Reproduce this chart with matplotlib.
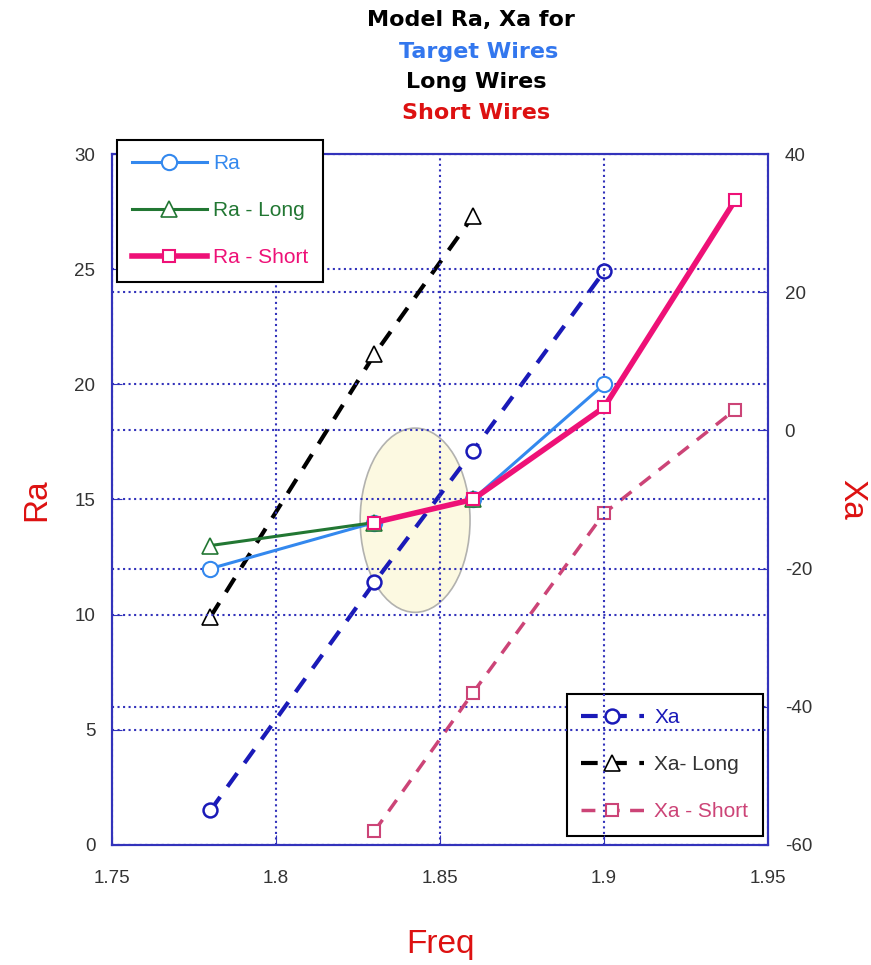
import matplotlib.pyplot as plt
from matplotlib.patches import Ellipse

plt.rcParams['font.family'] = ['Liberation Sans', 'DejaVu Sans']
plt.rcParams['axes.unicode_minus'] = False

freq_ra = [1.78, 1.83, 1.86, 1.9]
ra = [12, 14, 15, 20]
freq_ra_long = [1.78, 1.83, 1.86]
ra_long = [13, 14, 15]
freq_ra_short = [1.83, 1.86, 1.9, 1.94]
ra_short = [14, 15, 19, 28]

freq_xa = [1.78, 1.83, 1.86, 1.9]
xa = [-55, -22, -3, 23]
freq_xa_long = [1.78, 1.83, 1.86]
xa_long = [-27, 11, 31]
freq_xa_short = [1.83, 1.86, 1.9, 1.94]
xa_short = [-58, -38, -12, 3]

grid_col = '#3333bb'

fig = plt.figure(figsize=(8.71, 9.65), dpi=100)
ax = fig.add_axes([0.1286, 0.1244, 0.7532, 0.716])
ax2 = ax.twinx()
# Ra axis on top of the Xa axis
ax2.set_zorder(ax.get_zorder() - 1)
ax.patch.set_visible(False)

# Xa series (right axis)
ax2.plot(freq_xa, xa, color='#1a1ab8', lw=3, ls=(0, (4, 3)), marker='o',
         ms=10, mfc='white', mew=1.8, label='Xa')
ax2.plot(freq_xa_long, xa_long, color='black', lw=3, ls=(0, (4, 3)), marker='^',
         ms=12, mfc='white', mew=1.2, label='Xa- Long')
ax2.plot(freq_xa_short, xa_short, color='#cc4477', lw=2.5, ls=(0, (4, 3)), marker='s',
         ms=8, mfc='white', mew=1.5, label='Xa - Short')
ax2.set_ylim(-60, 40)
ax2.set_yticks([-60, -40, -20, 0, 20, 40])
ax2.grid(axis='y', color=grid_col, ls=':', lw=1.5)
ax2.add_patch(Ellipse((1.8424, 14.1), 0.0335, 8.0, transform=ax.transData,
                      facecolor='#fbf8d8', edgecolor='#999999', lw=1.2, alpha=0.75))
ax2.set_ylabel('Xa', color='#dd1111', fontsize=24, rotation=270, labelpad=40)

# Ra series (left axis)
ax.plot(freq_ra, ra, color='#3388ee', lw=2.2, marker='o', ms=11,
        mfc='white', mew=1.5, label='Ra')
ax.plot(freq_ra_long, ra_long, color='#227733', lw=2.2, marker='^', ms=11,
        mfc='white', mew=1.2, label='Ra - Long')
ax.plot(freq_ra_short, ra_short, color='#ee1177', lw=4, marker='s', ms=9,
        mfc='white', mew=1.5, label='Ra - Short')
ax.set_xlim(1.75, 1.95)
ax.set_ylim(0, 30)
ax.set_xticks([1.75, 1.8, 1.85, 1.9, 1.95])
ax.set_xticklabels(['1.75', '1.8', '1.85', '1.9', '1.95'])
ax.set_yticks([0, 5, 10, 15, 20, 25, 30])
ax.grid(color=grid_col, ls=':', lw=1.5)
ax.set_ylabel('Ra', color='#dd1111', fontsize=24, labelpad=16)
ax.set_xlabel('Freq', color='#dd1111', fontsize=24, labelpad=30)

for a in (ax, ax2):
    for s in a.spines.values():
        s.set_color(grid_col)
        s.set_linewidth(1.5)
    a.tick_params(direction='in', length=7, color=grid_col, labelsize=13.5,
                  labelcolor='#333333', pad=12)
ax.tick_params(axis='x', pad=18)

leg1 = ax.legend(loc='upper left', bbox_to_anchor=(0.005, 1.024), fontsize=15,
                 fancybox=False, framealpha=1, edgecolor='black', labelspacing=1.35,
                 handlelength=3.6, handletextpad=0.3, borderpad=0.7, borderaxespad=0.1)
leg1.get_frame().set_linewidth(1.5)
for t, c in zip(leg1.get_texts(), ['#3388ee', '#227733', '#ee1177']):
    t.set_color(c)

leg2 = ax2.legend(loc='lower right', bbox_to_anchor=(0.995, 0.01), fontsize=15,
                  fancybox=False, framealpha=1, edgecolor='black', labelspacing=1.35,
                  handlelength=3.0, handletextpad=0.5, borderpad=0.7, borderaxespad=0.1)
leg2.get_frame().set_linewidth(1.5)
for t, c in zip(leg2.get_texts(), ['#1a1ab8', '#333333', '#cc4477']):
    t.set_color(c)

title_font = ['DejaVu Sans']
fig.text(0.541, 0.979, 'Model Ra, Xa for', ha='center', va='center', family=title_font,
         fontsize=16, fontweight='bold', color='black')
fig.text(0.549, 0.946, 'Target Wires', ha='center', va='center', family=title_font,
         fontsize=16, fontweight='bold', color='#3377ee')
fig.text(0.547, 0.915, 'Long Wires', ha='center', va='center', family=title_font,
         fontsize=16, fontweight='bold', color='black')
fig.text(0.547, 0.883, 'Short Wires', ha='center', va='center', family=title_font,
         fontsize=16, fontweight='bold', color='#dd1111')

fig.savefig('out.png', dpi=100)
